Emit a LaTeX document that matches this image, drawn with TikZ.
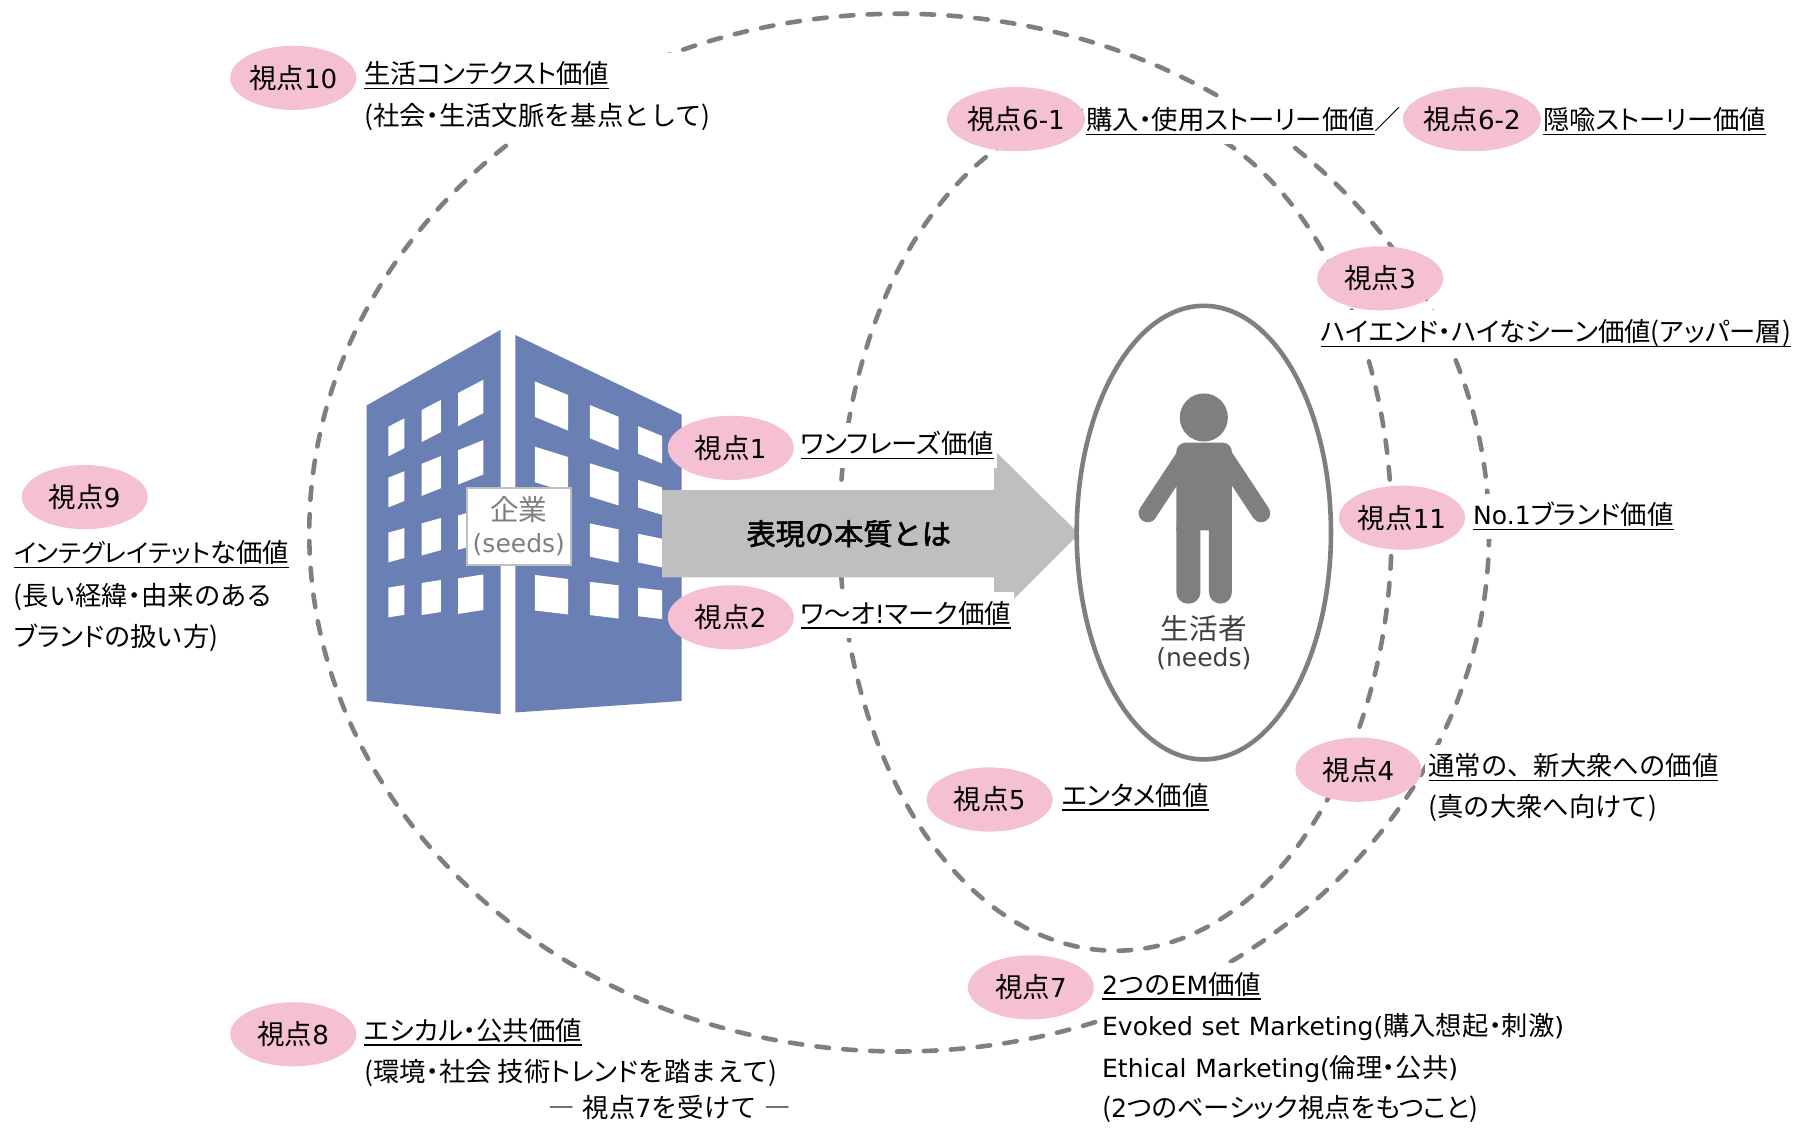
\documentclass[tikz,border=0pt]{standalone}
\usepackage{fontspec}
\setmainfont{Noto Sans CJK JP}[AutoFakeBold=2]
\newfontfamily\kanafont{Noto Sans CJK JP}[RawFeature=+palt]
\newfontfamily\latinfont{DejaVu Sans}[Scale=0.95]
\usetikzlibrary{shapes.geometric,calc}

\definecolor{pinkbg}{HTML}{F5C0D3}
\definecolor{dashgray}{HTML}{7F7F7F}
\definecolor{bldblue}{HTML}{6A7FB3}
\definecolor{arrowgray}{HTML}{BFBFBF}
\definecolor{figgray}{HTML}{7F7F7F}

% Latin runs are set in a Verdana-like face
\newcommand\latn[1]{{\latinfont #1}}
% kana runs with proportional widths
\newcommand\kt[1]{{\kanafont #1}}
% underlined label text
\newcommand\undl[1]{\leavevmode\setbox0=\hbox{#1}\rlap{\rule[-5pt]{\wd0}{1.3pt}}\box0}
% one window pane: x, width, top y, height, slope of top/bottom edges
\newcommand\bwin[5]{\fill[white] (#1,#3) -- ({#1+#2},{#3+#5*#2}) -- ({#1+#2},{#3+#5*#2+#4}) -- (#1,{#3+#4}) -- cycle;}

\tikzset{
  view/.style={ellipse, fill=pinkbg, minimum width=110pt, minimum height=56pt,
    inner sep=0pt, font=\fontsize{24}{27}\selectfont},
  lab/.style={fill=white, inner xsep=3pt, inner ysep=8pt, text height=19pt,
    text depth=5pt, anchor=base west, font=\fontsize{23}{27}\selectfont, align=left},
  dashring/.style={draw=dashgray, line width=4pt, line cap=round,
    dash pattern=on 11pt off 12.5pt},
}

\begin{document}
\begin{tikzpicture}[x=1pt,y=-1pt]
\useasboundingbox (0,0) rectangle (1568,984);
\fill[white] (0,0) rectangle (1568,984);

% value rings
\draw[dashring] (785,465) ellipse [x radius=515, y radius=453];
\draw[dashring] (974,462) ellipse [x radius=241, y radius=368];

% company building
\fill[bldblue] (320,354) -- (437,288) -- (437,623.5) -- (320,612) -- cycle;
\fill[bldblue] (450,292.5) -- (595,362) -- (595,612) -- (450,622) -- cycle;
% left face windows
\bwin{339}{14}{372.5}{26}{-0.517}\bwin{368}{17}{358}{28}{-0.517}\bwin{400}{22}{343}{29}{-0.517}
\bwin{339}{14}{417}{26}{-0.40}\bwin{368}{17}{405}{28}{-0.40}\bwin{400}{22}{393}{30}{-0.40}
\bwin{339}{14}{465}{26}{-0.28}\bwin{368}{17}{457}{28}{-0.28}\bwin{400}{22}{450}{30}{-0.28}
\bwin{339}{14}{513}{26}{-0.158}\bwin{368}{17}{509}{28}{-0.158}\bwin{400}{22}{505}{31}{-0.158}
% right face windows
\bwin{467}{29}{333}{31}{0.41}\bwin{515}{25}{353.6}{29}{0.41}\bwin{557}{21}{372}{24}{0.41}
\bwin{467}{29}{390}{31}{0.31}\bwin{515}{25}{404.5}{29}{0.31}\bwin{557}{21}{419}{24}{0.31}
\bwin{467}{29}{448}{31}{0.206}\bwin{515}{25}{457}{29}{0.206}\bwin{557}{21}{466}{25}{0.206}
\bwin{467}{29}{502}{31}{0.119}\bwin{515}{25}{508}{29}{0.119}\bwin{557}{21}{513}{25}{0.119}
\node[draw=arrowgray, line width=1.5pt, fill=white, minimum width=91pt, minimum height=67pt,
  inner sep=0pt, align=center, text=figgray, font=\fontsize{25}{30}\selectfont]
  (corp) at (453,459.5) {企業\\[-2pt]\latn{\fontsize{23}{28}\selectfont(seeds)}};

% block arrow from company to consumer
\fill[arrowgray] (578,428) -- (868,428) -- (868,393) -- (942,466) -- (868,540)
  -- (868,504) -- (578,504) -- cycle;
\node[font=\fontsize{25.5}{30}\selectfont\bfseries] (essence) at (741,466) {表現の本質とは};

% consumer
\draw[figgray, line width=4pt] (1051,465) ellipse [x radius=111, y radius=198];
\fill[figgray] (1051,364.5) circle (21);
\fill[figgray] (1027,463) {[rounded corners=8] -- (1027,386.5) -- (1075.5,386.5)} -- (1075.5,463) -- cycle;
\draw[figgray, line width=16pt, line cap=round] (1035,398) -- (1002,448);
\draw[figgray, line width=16pt, line cap=round] (1068,398) -- (1101,448);
\fill[figgray] (1027,460) {[rounded corners=10] -- (1027,527) -- (1048,527)} -- (1048,460) -- cycle;
\fill[figgray] (1055.5,460) {[rounded corners=10] -- (1055.5,527) -- (1075.5,527)} -- (1075.5,460) -- cycle;
\node[text=black!75, font=\fontsize{25}{28}\selectfont] (cons) at (1051,548.5) {生活者};
\node[text=black!75, font=\fontsize{23}{28}\selectfont\latinfont] (needs) at (1051,575) {(needs)};

% labels
\node[lab, text width=307pt] (t10a) at (315,73) {\undl{生活\kt{コンテクスト}価値}};
\node[lab, text width=307pt] (t10b) at (315,110) {(社会\kt{・}生活文脈を基点として)};
\node[lab] (t61) at (945,113) {\undl{購入\kt{・}使用\kt{ストーリー}価値}／};
\node[lab] (t62) at (1344,113) {\undl{隠喩\kt{ストーリー}価値}};
\node[lab] (t3) at (1150,298) {\undl{\kt{ハイエンド・ハイ}な\kt{シーン}価値(\kt{アッパー}層)}};
\node[lab] (t1) at (696,396) {\undl{\kt{ワンフレーズ}価値}};
\node[lab] (t2) at (696,544) {\undl{\kt{ワ}～\kt{オ}\latn{!}\kt{マーク}価値}};
\node[lab] (t9a) at (9,491) {\undl{\kt{\fontsize{22}{27}\selectfont インテグレイテット}な価値}};
\node[lab] (t9b) at (9,529) {(長い経緯\kt{・}由来のある};
\node[lab] (t9c) at (9,564) {\kt{ブランド}の扱い方)};
\node[lab] (t11) at (1283,458) {\undl{\latn{No.1}\kt{ブランド}価値}};
\node[lab] (t4a) at (1244,677) {\undl{通常の、新大衆への価値}};
\node[lab] (t4b) at (1244,713) {(真の大衆へ向けて)};
\node[lab] (t5) at (924,703) {\undl{\kt{エンタメ}価値}};
\node[lab, text width=451pt] (t7a) at (959,868) {\undl{\latn{2}つの\latn{EM}価値}};
\node[lab, text width=451pt] (t7b) at (959,904) {\latn{Evoked set Marketing(}購入想起\kt{・}刺激\latn{)}};
\node[lab, text width=451pt] (t7c) at (959,941) {\latn{Ethical Marketing(}倫理\kt{・}公共\latn{)}};
\node[lab, text width=451pt] (t7d) at (959,976) {(\latn{2}\kt{つのベーシック}視点\kt{をもつこと})};
\node[lab] (t8a) at (315,908) {\undl{\kt{エシカル・}公共価値}};
\node[lab] (t8b) at (315,944) {(環境\kt{・}社会 技術\kt{トレンド}を踏まえて)};
\node[lab, anchor=base east] (t8c) at (694,976) {―\hspace{7pt}視点\latn{7}を受けて\hspace{7pt}―};

% viewpoint badges
\node[view] (v10) at (256,68) {視点\latn{10}};
\node[view] (v61) at (887,104) {視点\latn{6-1}};
\node[view] (v62) at (1285,104) {視点\latn{6-2}};
\node[view] (v3) at (1205,243) {視点\latn{3}};
\node[view] (v1) at (638,391) {視点\latn{1}};
\node[view] (v9) at (74,434) {視点\latn{9}};
\node[view] (v11) at (1224,452) {視点\latn{11}};
\node[view] (v2) at (638,539) {視点\latn{2}};
\node[view] (v4) at (1186,672) {視点\latn{4}};
\node[view] (v5) at (864,698) {視点\latn{5}};
\node[view] (v7) at (900,862) {視点\latn{7}};
\node[view] (v8) at (256,903) {視点\latn{8}};
\end{tikzpicture}
\end{document}
